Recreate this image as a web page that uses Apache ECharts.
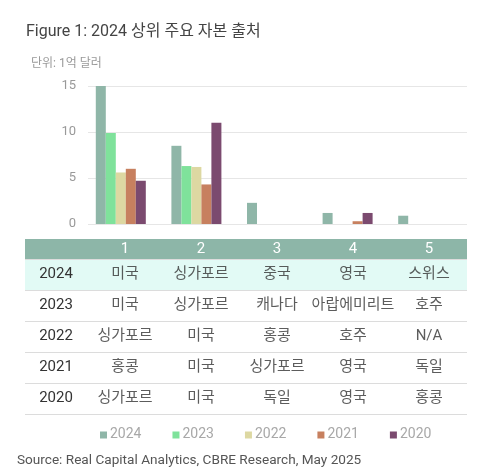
<!DOCTYPE html>
<html>

<head>
    <meta charset="UTF-8">
    <title>Figure 1</title>
    <script src="https://cdn.jsdelivr.net/npm/echarts@6/dist/echarts.min.js"></script>
    <style>
        html, body { margin: 0; padding: 0; background: #fff; }
        #main { width: 501px; height: 471px; }
    </style>
</head>

<body>
    <div id="main"></div>

    <script>
        // ranks 1-5, values in 1억 달러
        var ranks = ['1', '2', '3', '4', '5'];
        var years = ['2024', '2023', '2022', '2021', '2020'];

        var val2024 = [15.0, 8.5, 2.3, 1.2, 0.9];
        var val2023 = [9.9, 6.3, 0, 0, 0];
        var val2022 = [5.6, 6.2, 0, 0, 0];
        var val2021 = [6.0, 4.3, 0, 0.3, 0];
        var val2020 = [4.7, 11.0, 0, 1.2, 0];

        var yTicks = [0, 15, 5]; // min, max, interval

        // 국가 순위표
        var table2024 = ['미국', '싱가포르', '중국', '영국', '스위스'];
        var table2023 = ['미국', '싱가포르', '캐나다', '아랍에미리트', '호주'];
        var table2022 = ['싱가포르', '미국', '홍콩', '호주', 'N/A'];
        var table2021 = ['홍콩', '미국', '싱가포르', '영국', '독일'];
        var table2020 = ['싱가포르', '미국', '독일', '영국', '홍콩'];

        var colors = ['#8fb6a8', '#7fe29b', '#ddd8a2', '#c7805f', '#7b4a6f'];
        var font = 'Roboto, "Noto Sans CJK KR", sans-serif';

        var myChart = echarts.init(document.getElementById('main'));

        var barValues = [val2024, val2023, val2022, val2021, val2020];
        var tableRows = [table2024, table2023, table2022, table2021, table2020];

        var cells = [];
        tableRows.forEach(function (row, r) {
            row.forEach(function (name, c) {
                cells.push([ranks[c], years[r], name]);
            });
        });

        var barSeries = years.map(function (y, i) {
            return {
                name: y,
                type: 'bar',
                xAxisIndex: 1,
                yAxisIndex: 1,
                barWidth: 10,
                barGap: '0%',
                itemStyle: { color: colors[i] },
                data: barValues[i]
            };
        });

        var option = {
            textStyle: { fontFamily: font },
            animation: false,
            title: [
                {
                    text: 'Figure 1: 2024 상위 주요 자본 출처',
                    left: 21,
                    top: 19,
                    textStyle: { fontSize: 16, fontWeight: 'normal', color: '#444', fontFamily: font }
                },
                {
                    text: '단위: 1억 달러',
                    left: 26,
                    top: 53,
                    textStyle: { fontSize: 12, fontWeight: 'normal', color: '#999', fontFamily: font }
                },
                {
                    text: 'Source: Real Capital Analytics, CBRE Research, May 2025',
                    left: 12,
                    top: 449,
                    textStyle: { fontSize: 13.6, fontWeight: 'normal', color: '#555', fontFamily: font }
                }
            ],
            legend: {
                data: years,
                left: 95,
                top: 423,
                icon: 'rect',
                itemWidth: 7,
                itemHeight: 7,
                itemGap: 31,
                textStyle: { fontSize: 14, color: '#a8a8a8', fontFamily: font, padding: [0, 0, 0, -2] }
            },
            graphic: [
                {
                    type: 'rect',
                    z: -1,
                    shape: { x: 25, y: 239, width: 442, height: 20 },
                    style: { fill: '#8db6a8' }
                },
                {
                    type: 'rect',
                    z: -1,
                    shape: { x: 25, y: 259, width: 442, height: 31 },
                    style: { fill: '#e2faf5' }
                }
            ],
            grid: [
                { left: 88, right: 34, top: 86, height: 138 },
                { left: 83, right: 40, top: 86, height: 138 },
                { left: 87, right: 34, top: 259, height: 155 }
            ],
            xAxis: [
                { gridIndex: 0, type: 'value', show: false },
                {
                    gridIndex: 1, type: 'category', data: ranks,
                    axisLine: { show: false }, axisTick: { show: false }, axisLabel: { show: false }
                },
                {
                    gridIndex: 2, type: 'category', data: ranks, position: 'top', z: 10,
                    axisLine: { show: false }, axisTick: { show: false }, splitLine: { show: false },
                    axisLabel: { color: '#fff', fontSize: 15, margin: 10, verticalAlign: 'middle' }
                }
            ],
            yAxis: [
                {
                    gridIndex: 0, type: 'value', min: yTicks[0], max: yTicks[1], interval: yTicks[2],
                    axisLine: { show: false }, axisTick: { show: false },
                    axisLabel: { color: '#999', fontSize: 13, margin: 12 },
                    splitLine: { lineStyle: { color: '#e6e6e6', width: 1 } }
                },
                {
                    gridIndex: 1, type: 'value', min: yTicks[0], max: yTicks[1], interval: yTicks[2],
                    show: false
                },
                {
                    gridIndex: 2, type: 'category', data: years, inverse: true,
                    axisLine: { show: false },
                    axisTick: { show: true, inside: false, length: 62, lineStyle: { color: '#dcdcdc' } },
                    splitLine: { show: true, lineStyle: { color: '#dcdcdc' } },
                    axisLabel: { color: '#333', fontSize: 15, margin: 31, align: 'center' }
                }
            ],
            series: barSeries.concat([
                {
                    name: 'table',
                    type: 'scatter',
                    xAxisIndex: 2,
                    yAxisIndex: 2,
                    symbolSize: 1,
                    itemStyle: { color: 'transparent' },
                    label: {
                        show: true,
                        position: 'inside',
                        color: '#333',
                        fontSize: 15,
                        formatter: function (p) { return p.data[2]; }
                    },
                    data: cells
                }
            ])
        };

        myChart.setOption(option);

        window.addEventListener('resize', function () {
            myChart.resize();
        });
    </script>
</body>

</html>
